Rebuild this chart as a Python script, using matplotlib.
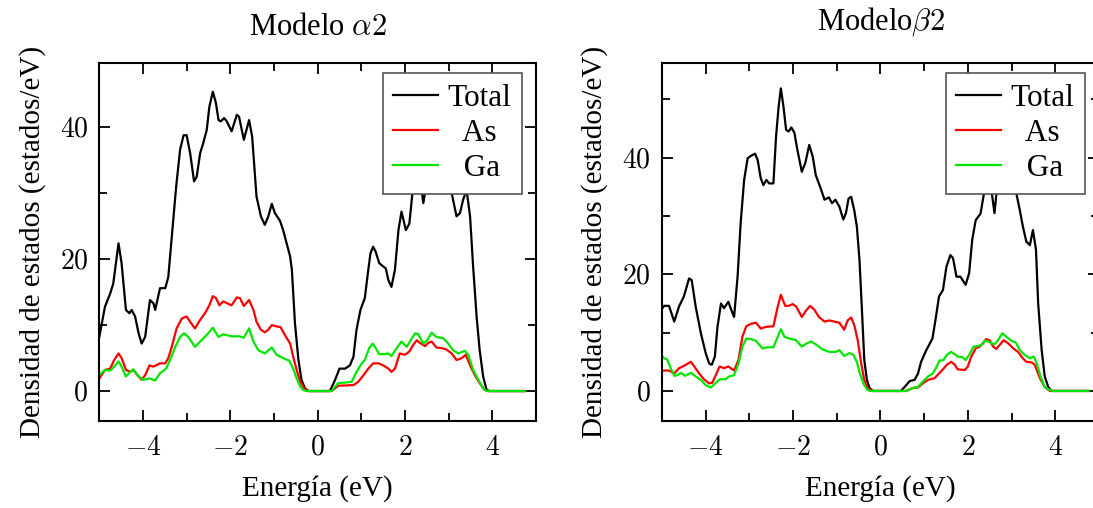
import matplotlib
matplotlib.use("Agg")
import matplotlib.pyplot as plt
from matplotlib.ticker import MultipleLocator, FuncFormatter

# ---------------- data ----------------
titles = [r"Modelo $\alpha 2$", r"Modelo$\beta 2$"]
series_labels = ["Total", "As", "Ga"]
xlabel = "Energía (eV)"
ylabel = "Densidad de estados (estados/eV)"

# Modelo alpha2
e_tot_a = [-5.00, -4.87, -4.75, -4.68, -4.56, -4.49, -4.39, -4.31, -4.26, -4.18,
           -4.10, -4.03, -3.95, -3.84, -3.76, -3.72, -3.61, -3.49, -3.42, -3.34,
           -3.24, -3.15, -3.07, -3.00, -2.92, -2.83, -2.77, -2.69, -2.62, -2.54,
           -2.48, -2.40, -2.33, -2.27, -2.22, -2.14, -2.08, -1.97, -1.85, -1.80,
           -1.69, -1.57, -1.50, -1.40, -1.30, -1.21, -1.13, -1.05, -0.98, -0.86,
           -0.79, -0.71, -0.63, -0.59, -0.52, -0.44, -0.37, -0.29, -0.21, 0.28,
           0.40, 0.50, 0.63, 0.74, 0.82, 0.89, 0.98, 1.08, 1.16, 1.21,
           1.27, 1.33, 1.41, 1.50, 1.56, 1.62, 1.69, 1.77, 1.85, 1.92,
           2.02, 2.10, 2.17, 2.25, 2.32, 2.38, 2.42, 2.48, 2.55, 2.65,
           2.75, 2.85, 2.95, 3.07, 3.18, 3.26, 3.33, 3.41, 3.49, 3.56,
           3.64, 3.71, 3.79, 3.87, 3.94, 4.74]
dos_tot_a = [8.2, 12.8, 14.8, 16.3, 22.4, 19.4, 12.3, 11.8, 12.3, 11.3,
             8.75, 7.2, 8.2, 13.8, 13.3, 12.3, 15.6, 15.6, 17.3, 23.4,
             31.0, 36.6, 38.8, 38.8, 36.1, 31.8, 32.5, 36.1, 37.6, 39.6,
             43.1, 45.4, 43.7, 41.1, 40.9, 41.4, 40.9, 39.4, 41.9, 41.6,
             38.1, 41.1, 38.6, 29.5, 26.5, 25.2, 26.5, 28.4, 27.0, 25.8,
             24.4, 22.4, 20.4, 18.4, 10.3, 4.7, 1.7, 0.4, 0.0, 0.0,
             1.7, 3.4, 3.4, 3.9, 5.2, 9.3, 12.3, 14.1, 18.4, 20.9,
             21.9, 21.1, 19.4, 18.9, 18.6, 16.8, 15.8, 18.4, 24.4, 27.2,
             24.4, 25.4, 30.0, 33.0, 32.0, 30.5, 28.5, 31.0, 35.0, 37.0,
             36.0, 38.0, 35.0, 30.0, 26.5, 27.0, 29.0, 30.5, 26.5, 18.9,
             11.3, 6.2, 2.2, 0.15, 0.0, 0.0]

e_as_a = [-5.00, -4.87, -4.75, -4.66, -4.56, -4.49, -4.39, -4.29, -4.22, -4.10,
          -4.03, -3.95, -3.85, -3.76, -3.61, -3.49, -3.42, -3.34, -3.23, -3.11,
          -3.00, -2.92, -2.81, -2.69, -2.58, -2.48, -2.40, -2.33, -2.25, -2.16,
          -2.07, -1.97, -1.85, -1.78, -1.69, -1.57, -1.47, -1.40, -1.30, -1.21,
          -1.13, -1.05, -0.94, -0.85, -0.75, -0.63, -0.56, -0.48, -0.40, -0.29,
          -0.21, 0.32, 0.47, 0.82, 0.93, 1.05, 1.16, 1.27, 1.39, 1.50,
          1.62, 1.69, 1.77, 1.88, 2.00, 2.10, 2.19, 2.27, 2.34, 2.46,
          2.53, 2.61, 2.72, 2.84, 2.95, 3.07, 3.18, 3.30, 3.39, 3.49,
          3.60, 3.71, 3.83, 3.90, 4.74]
dos_as_a = [1.9, 3.2, 3.4, 4.7, 5.7, 5.0, 3.2, 2.9, 3.2, 2.2,
            1.7, 2.4, 3.9, 3.7, 4.2, 4.2, 5.0, 6.7, 9.5, 11.0,
            11.3, 10.5, 9.5, 10.8, 11.8, 13.0, 14.4, 14.1, 13.0, 13.6,
            13.3, 13.0, 14.2, 14.1, 12.9, 13.8, 12.3, 10.5, 9.3, 8.9,
            9.3, 10.0, 9.8, 9.7, 8.5, 7.2, 5.2, 3.2, 1.4, 0.25,
            0.0, 0.0, 0.8, 0.9, 1.4, 2.4, 3.4, 4.2, 4.2, 3.9,
            3.4, 2.9, 3.4, 5.7, 5.5, 6.0, 7.0, 7.7, 7.3, 6.8,
            7.3, 7.5, 6.6, 6.5, 6.3, 5.7, 4.7, 5.0, 5.5, 3.9,
            2.4, 1.2, 0.15, 0.0, 0.0]

e_ga_a = [-5.00, -4.87, -4.75, -4.66, -4.56, -4.49, -4.39, -4.29, -4.22, -4.10,
          -3.99, -3.85, -3.72, -3.61, -3.47, -3.38, -3.26, -3.15, -3.06, -2.96,
          -2.81, -2.69, -2.54, -2.40, -2.27, -2.16, -1.97, -1.80, -1.69, -1.57,
          -1.47, -1.36, -1.21, -1.05, -0.94, -0.79, -0.65, -0.56, -0.48, -0.40,
          -0.33, -0.25, 0.32, 0.47, 0.66, 0.78, 0.89, 1.01, 1.08, 1.18,
          1.26, 1.33, 1.41, 1.52, 1.62, 1.69, 1.81, 1.92, 2.04, 2.13,
          2.23, 2.30, 2.42, 2.51, 2.61, 2.72, 2.88, 2.99, 3.10, 3.22,
          3.37, 3.45, 3.56, 3.68, 3.79, 3.87, 4.74]
dos_ga_a = [2.4, 3.2, 3.1, 3.7, 4.5, 3.7, 2.2, 2.9, 3.3, 2.2,
            1.7, 1.9, 1.6, 2.7, 3.4, 4.7, 6.7, 8.2, 8.75, 8.2,
            6.7, 7.5, 8.5, 9.6, 8.2, 8.6, 8.3, 8.3, 8.1, 9.5,
            7.5, 6.2, 5.7, 6.6, 5.5, 5.0, 4.6, 3.4, 1.9, 0.7,
            0.15, 0.0, 0.0, 1.2, 1.3, 1.4, 2.9, 4.2, 4.7, 6.5,
            7.2, 6.5, 5.6, 5.6, 5.7, 5.3, 6.5, 7.5, 6.7, 7.7,
            8.75, 8.65, 7.2, 7.7, 8.85, 8.2, 8.0, 7.2, 6.2, 5.7,
            6.1, 5.5, 3.2, 1.7, 0.4, 0.0, 0.0]

# Modelo beta2
e_tot_b = [-5.02, -4.95, -4.84, -4.72, -4.61, -4.50, -4.38, -4.32, -4.23, -4.11,
           -4.00, -3.92, -3.86, -3.79, -3.73, -3.65, -3.58, -3.48, -3.43, -3.35,
           -3.27, -3.20, -3.12, -3.04, -2.97, -2.87, -2.81, -2.74, -2.68, -2.61,
           -2.55, -2.45, -2.39, -2.33, -2.28, -2.22, -2.16, -2.10, -2.04, -1.97,
           -1.90, -1.80, -1.72, -1.63, -1.55, -1.48, -1.38, -1.28, -1.18, -1.11,
           -1.03, -0.94, -0.85, -0.79, -0.73, -0.67, -0.60, -0.54, -0.48, -0.42,
           -0.37, -0.31, -0.25, -0.18, 0.47, 0.59, 0.67, 0.78, 0.86, 0.93,
           1.05, 1.19, 1.26, 1.34, 1.43, 1.51, 1.60, 1.66, 1.74, 1.83,
           1.89, 1.95, 2.03, 2.10, 2.18, 2.29, 2.37, 2.45, 2.53, 2.61,
           2.67, 2.75, 2.85, 2.95, 3.05, 3.11, 3.19, 3.26, 3.34, 3.42,
           3.49, 3.56, 3.61, 3.69, 3.76, 3.84, 3.91, 4.76]
dos_tot_b = [13.9, 14.6, 14.6, 11.9, 14.5, 16.2, 19.3, 19.0, 14.5, 9.9,
             6.5, 4.7, 4.5, 5.9, 11.0, 15.0, 14.2, 15.3, 14.2, 12.7,
             19.6, 28.8, 36.2, 39.9, 40.3, 40.7, 39.6, 36.5, 35.3, 36.2,
             35.6, 35.6, 43.6, 48.8, 51.9, 48.8, 44.8, 44.5, 45.2, 44.3,
             41.3, 37.6, 39.1, 42.2, 40.2, 37.0, 35.0, 32.8, 33.2, 32.2,
             32.8, 31.6, 29.4, 30.5, 33.0, 33.3, 31.0, 28.2, 22.5, 13.3,
             5.3, 1.9, 0.5, 0.0, 0.0, 1.0, 1.7, 1.9, 3.0, 5.0,
             7.0, 9.0, 12.2, 16.2, 17.3, 21.3, 23.3, 22.8, 19.6, 19.6,
             18.9, 18.2, 20.2, 25.9, 29.3, 30.4, 33.9, 36.5, 35.0, 30.5,
             35.0, 38.0, 40.0, 38.0, 36.0, 33.9, 31.0, 28.2, 25.6, 25.0,
             27.6, 24.2, 15.0, 7.0, 2.5, 0.7, 0.0, 0.0]

e_as_b = [-5.02, -4.84, -4.72, -4.61, -4.50, -4.34, -4.27, -4.15, -4.04, -3.92,
          -3.85, -3.77, -3.68, -3.58, -3.48, -3.35, -3.25, -3.16, -3.07, -2.97,
          -2.85, -2.74, -2.62, -2.45, -2.35, -2.28, -2.18, -2.10, -2.01, -1.93,
          -1.80, -1.70, -1.61, -1.51, -1.41, -1.28, -1.17, -1.06, -0.94, -0.83,
          -0.75, -0.67, -0.60, -0.52, -0.44, -0.37, -0.29, -0.21, 0.59, 0.74,
          0.86, 0.97, 1.09, 1.24, 1.34, 1.43, 1.52, 1.62, 1.70, 1.77,
          1.93, 2.00, 2.08, 2.18, 2.27, 2.35, 2.42, 2.50, 2.58, 2.65,
          2.73, 2.82, 2.92, 3.04, 3.15, 3.26, 3.34, 3.46, 3.53, 3.65,
          3.76, 3.88, 4.76]
dos_as_b = [3.5, 3.5, 3.0, 3.9, 4.3, 5.0, 4.3, 3.0, 2.0, 1.3,
            1.4, 2.7, 4.2, 3.9, 4.2, 3.5, 5.3, 9.3, 11.1, 11.5,
            11.7, 10.7, 11.0, 11.1, 14.5, 16.5, 14.6, 14.6, 14.9, 14.5,
            12.7, 13.8, 14.6, 13.9, 12.7, 11.9, 12.1, 11.9, 11.7, 10.5,
            12.1, 12.6, 11.3, 8.7, 4.7, 1.9, 0.5, 0.0, 0.0, 0.5,
            0.6, 1.3, 1.9, 2.2, 3.0, 3.7, 4.5, 5.0, 4.5, 3.7,
            3.6, 4.2, 5.9, 7.3, 7.6, 8.2, 8.9, 8.7, 7.6, 7.2,
            7.9, 8.7, 8.2, 7.3, 6.7, 5.6, 5.0, 4.9, 4.5, 2.2,
            0.7, 0.0, 0.0]

e_ga_b = [-5.02, -4.95, -4.88, -4.80, -4.72, -4.65, -4.57, -4.47, -4.34, -4.23,
          -4.11, -4.00, -3.88, -3.78, -3.68, -3.55, -3.46, -3.35, -3.25, -3.16,
          -3.07, -2.97, -2.85, -2.70, -2.58, -2.45, -2.35, -2.28, -2.20, -2.09,
          -1.93, -1.80, -1.70, -1.59, -1.48, -1.32, -1.17, -1.02, -0.94, -0.83,
          -0.71, -0.62, -0.54, -0.47, -0.39, -0.31, -0.25, 0.59, 0.74, 0.86,
          0.97, 1.09, 1.20, 1.29, 1.35, 1.44, 1.52, 1.62, 1.70, 1.77,
          1.87, 1.95, 2.04, 2.13, 2.23, 2.31, 2.39, 2.46, 2.54, 2.61,
          2.69, 2.79, 2.88, 3.00, 3.10, 3.19, 3.30, 3.42, 3.51, 3.59,
          3.66, 3.76, 3.86, 3.95, 4.76]
dos_ga_b = [6.2, 5.6, 5.4, 3.9, 2.6, 2.7, 3.1, 2.6, 3.1, 2.5,
            1.9, 1.0, 0.6, 1.3, 2.0, 2.0, 2.5, 2.7, 4.7, 7.6,
            9.0, 8.9, 8.6, 7.3, 7.5, 7.5, 9.3, 10.6, 9.3, 9.0,
            8.7, 7.6, 8.1, 8.5, 8.0, 7.1, 6.7, 6.7, 7.0, 6.0,
            6.5, 6.2, 5.0, 3.0, 1.3, 0.3, 0.0, 0.0, 0.5, 0.7,
            1.6, 2.5, 3.0, 4.2, 5.2, 5.3, 6.2, 6.7, 6.3, 5.9,
            5.8, 5.3, 6.3, 7.6, 7.7, 7.9, 8.6, 8.5, 8.2, 8.0,
            8.7, 9.9, 9.3, 8.6, 8.3, 7.0, 6.2, 5.6, 5.9, 4.5,
            2.5, 0.7, 0.2, 0.0, 0.0]

# ---------------- style ----------------
plt.rcParams["font.family"] = ["Liberation Serif", "DejaVu Serif"]
plt.rcParams["mathtext.fontset"] = "cm"

colors = ["#000000", "#ff0000", "#00e600"]
W, H = 1093, 508
fig = plt.figure(figsize=(W / 100, H / 100), dpi=100)

ax_specs = [
    dict(rect=[99.3 / W, 1 - 420.7 / H, 436.7 / W, 358.0 / H], ylim=(-4.5, 49.8),
         title_pad=20),
    dict(rect=[662.0 / W, 1 - 420.7 / H, 436.9 / W, 358.0 / H], ylim=(-5.1, 56.3),
         title_pad=24),
]
data = [
    [(e_tot_a, dos_tot_a), (e_as_a, dos_as_a), (e_ga_a, dos_ga_a)],
    [(e_tot_b, dos_tot_b), (e_as_b, dos_as_b), (e_ga_b, dos_ga_b)],
]

fmt = FuncFormatter(lambda v, p: r"$%d$" % round(v))

for spec, series, title in zip(ax_specs, data, titles):
    ax = fig.add_axes(spec["rect"])
    lines = []
    for (ex, dy), c in zip(series, colors):
        ln, = ax.plot(ex, dy, color=c, lw=1.6)
        lines.append(ln)
    ax.set_xlim(-5, 5)
    ax.set_ylim(*spec["ylim"])
    ax.xaxis.set_major_locator(MultipleLocator(2))
    ax.xaxis.set_minor_locator(MultipleLocator(1))
    ax.yaxis.set_major_locator(MultipleLocator(20))
    ax.yaxis.set_minor_locator(MultipleLocator(10))
    ax.xaxis.set_major_formatter(fmt)
    ax.yaxis.set_major_formatter(fmt)
    ax.tick_params(which="both", direction="in", top=True, right=True,
                   width=1.3, labelsize=20)
    ax.tick_params(axis="x", which="major", length=8, pad=11)
    ax.tick_params(axis="y", which="major", length=8, pad=8)
    ax.tick_params(which="minor", length=6)
    for s in ax.spines.values():
        s.set_linewidth(1.5)
    ax.set_xlabel(xlabel, fontsize=21, labelpad=10)
    ax.set_ylabel(ylabel, fontsize=21, labelpad=10)
    ax.set_title(title, fontsize=22, pad=spec["title_pad"])
    shown = [lab if i == 0 else "  " + lab for i, lab in enumerate(series_labels)]
    leg = ax.legend(lines, shown, loc="upper right",
                    bbox_to_anchor=(0.968, 0.970), bbox_transform=ax.transAxes,
                    borderaxespad=0, fontsize=22.5, fancybox=False, framealpha=1,
                    edgecolor="#555555", handlelength=1.45, handletextpad=0.3,
                    labelspacing=0.2, borderpad=0.33)
    leg.get_frame().set_linewidth(1.2)

fig.savefig("out.png", dpi=100)
